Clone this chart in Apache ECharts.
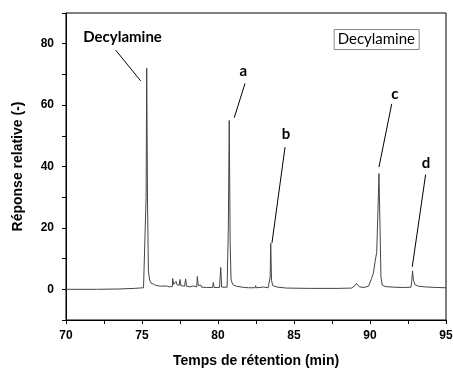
<!DOCTYPE html>
<html><head><meta charset="utf-8">
<script src="https://cdn.jsdelivr.net/npm/echarts@6/dist/echarts.min.js"></script>
<style>html,body{margin:0;padding:0;background:#fff}#c{width:453px;height:369px}</style>
</head><body><div id="c"></div>
<script>
// Retention times (min) and relative response (-)
var times = [70.0,72.0,73.5,74.5,74.8,74.87,74.93,75.1,75.2,75.27,75.31,75.36,75.42,75.5,75.6,75.75,75.82,75.9,76.2,76.6,76.8,77.0,77.02,77.08,77.18,77.24,77.3,77.45,77.5,77.56,77.8,77.87,77.93,78.15,78.2,78.26,78.37,78.45,78.6,78.64,78.7,78.86,78.92,79.25,79.3,79.35,79.65,79.69,79.74,80.1,80.18,80.24,80.6,80.68,80.74,80.8,80.86,80.9,80.98,81.2,81.66,82.0,82.45,82.48,82.52,82.76,82.98,83.3,83.43,83.47,83.52,83.6,83.9,84.5,86.0,87.7,87.8,87.9,88.8,89.0,89.1,89.2,89.3,89.6,89.9,90.1,90.22,90.35,90.44,90.52,90.59,90.66,90.72,90.8,91.0,91.5,92.1,92.19,92.28,92.7,92.75,92.8,92.86,92.95,93.2,93.6,94.3,95.0];
var response = [0,0,0.1,0.3,0.4,0.8,0.4,0.5,1.0,30,72,30,6,3,2,1.7,1.9,1.3,1.0,1.1,0.8,0.9,3.5,1.6,1.7,2.6,1.5,1.3,3.2,1.2,1.0,3.4,1.0,0.8,1.4,0.8,1.1,0.8,0.8,4.2,1.2,1.4,0.7,0.6,1.1,0.6,0.6,2.2,0.6,0.6,7.1,0.7,0.7,20,55,15,3,2.5,1.5,1.0,0.65,0.5,0.5,1.2,0.5,0.6,0.75,0.5,4,15,3,1.2,0.7,0.4,0.3,0.3,0.45,0.3,0.4,1.2,1.9,1.6,0.8,0.6,1.0,3.5,5.2,9.5,12,25,37.7,20,4,1.4,0.9,0.7,0.6,0.85,0.6,0.7,3,6,3,1.5,1.0,0.8,0.6,0.5];

// Peak annotations: label text and its position (t, response)
var peakNames = ['Decylamine','a','b','c','d'];
var labelPos = [[73.72,82],[81.66,71.2],[84.47,50.6],[91.64,63.6],[93.68,41.2]];
// Leader lines: start and end (t, response)
var leaderStart = [[73.27,77.9],[81.78,67.1],[84.41,46.3],[91.43,60.4],[93.66,37.4]];
var leaderEnd = [[74.91,67.9],[81.07,55.9],[83.55,15.1],[90.59,39.8],[92.78,7.3]];

var xTicks = [70,75,80,85,90,95];
var yTicks = [0,20,40,60,80];
var seriesName = 'Decylamine';

var data = times.map(function(t,i){return [t,response[i]];});
var chart = echarts.init(document.getElementById('c'));
var axisFont = {fontFamily:'Liberation Sans, Arial, sans-serif',fontWeight:'bold',fontSize:12,color:'#000'};
chart.setOption({
  animation:false,
  title:{text:seriesName,right:34,top:29,borderColor:'#888',borderWidth:1,padding:[3,4,3,4],
    textStyle:{fontFamily:'Lato, sans-serif',fontWeight:'normal',fontSize:15,color:'#000'}},
  grid:{left:66,right:7,top:13,bottom:49,show:true,borderColor:'#000',borderWidth:1,
    containLabel:false,outerBoundsMode:'none'},
  xAxis:{type:'value',min:70,max:95,interval:2.5,
    name:'Temps de rétention (min)',nameLocation:'middle',nameGap:34,
    nameTextStyle:{fontFamily:'Liberation Sans, Arial, sans-serif',fontWeight:'bold',fontSize:14,color:'#000'},
    axisLine:{onZero:false,lineStyle:{color:'#000',width:1}},
    axisTick:{inside:false,length:4,lineStyle:{color:'#000'}},
    axisLabel:Object.assign({margin:10,formatter:function(v){return xTicks.indexOf(v)>=0?String(v):'';}},axisFont),
    splitLine:{show:false}},
  yAxis:{type:'value',min:-10,max:90,interval:10,
    name:'Réponse relative (-)',nameLocation:'middle',nameGap:41,
    nameTextStyle:{fontFamily:'Liberation Sans, Arial, sans-serif',fontWeight:'bold',fontSize:14,color:'#000'},
    axisLine:{onZero:false,lineStyle:{color:'#000',width:1}},
    axisTick:{inside:false,length:4,lineStyle:{color:'#000'}},
    axisLabel:Object.assign({margin:12,formatter:function(v){return yTicks.indexOf(v)>=0?String(v):'';}},axisFont),
    splitLine:{show:false}},
  series:[{
    name:seriesName,type:'line',data:data,showSymbol:false,symbol:'none',
    lineStyle:{color:'#444',width:1},
    markLine:{silent:true,symbol:['none','none'],label:{show:false},
      lineStyle:{color:'#000',width:1,type:'solid'},
      data:leaderStart.map(function(s,i){return [{coord:s},{coord:leaderEnd[i]}];})},
    markPoint:{silent:true,symbol:'circle',symbolSize:0,
      label:{show:true,position:'inside',color:'#000',fontFamily:'Lato, sans-serif',fontWeight:'bold',fontSize:15,
        formatter:function(p){return p.name;}},
      data:peakNames.map(function(n,i){return {name:n,coord:labelPos[i]};})}
  }]
});
</script></body></html>
